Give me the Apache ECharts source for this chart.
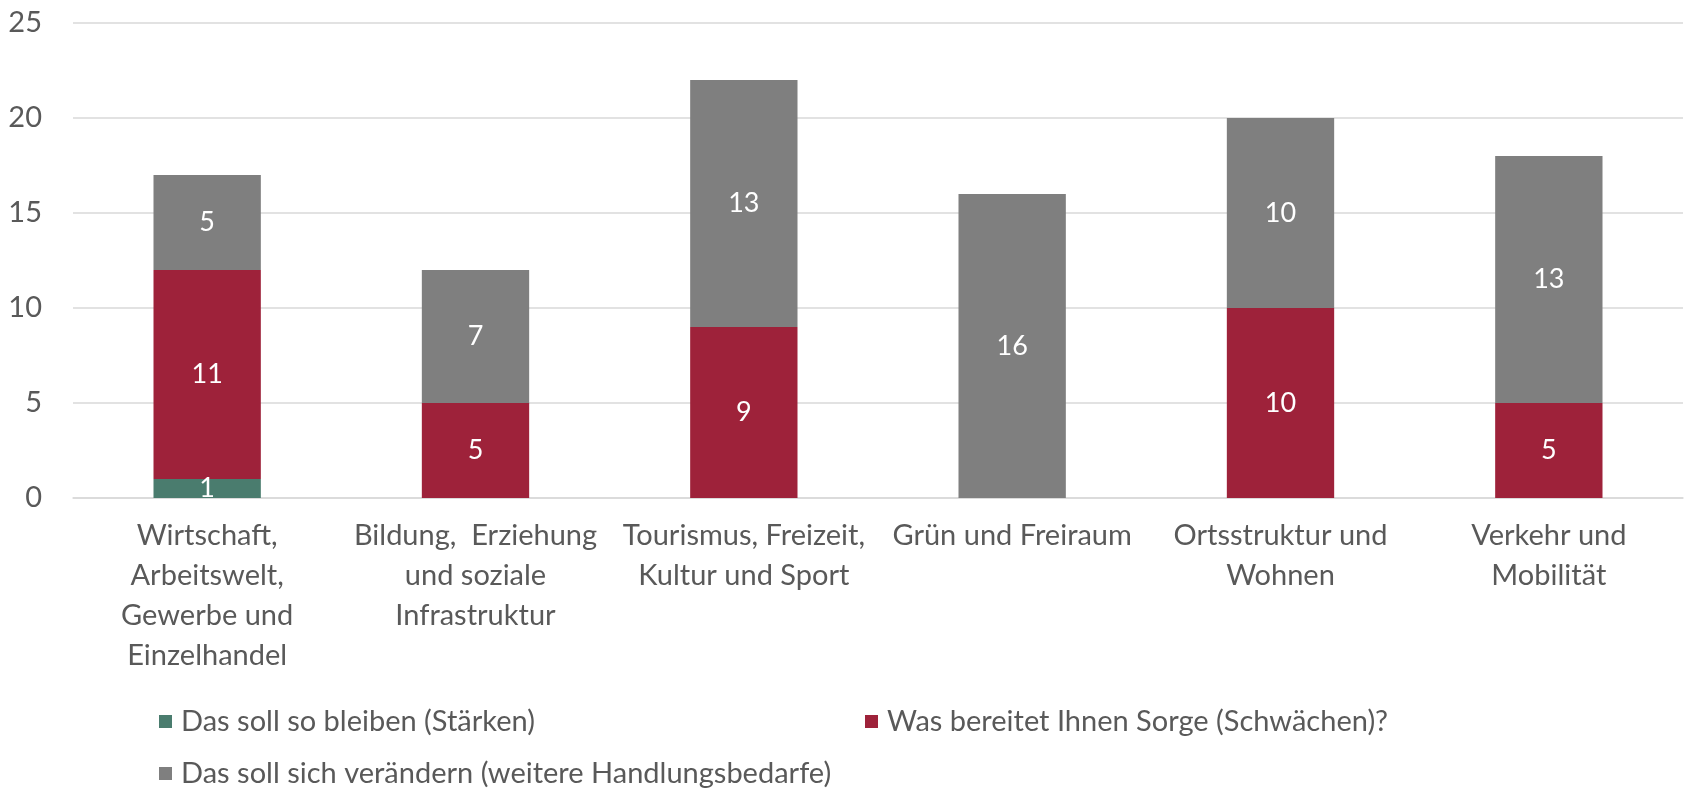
<!DOCTYPE html>
<html lang="de">

<head>
  <meta charset="utf-8">
  <title>Stärken, Schwächen, Handlungsbedarfe</title>
  <style>
    * {
      margin: 0;
      padding: 0;
    }

    #chart-container {
      position: relative;
      height: 100vh;
      overflow: hidden;
    }
  </style>
</head>

<body>
  <div id="chart-container"></div>
  <script src="https://cdn.jsdelivr.net/npm/echarts@6/dist/echarts.min.js"></script>
  <script>
    var dom = document.getElementById('chart-container');
    var myChart = echarts.init(dom, null, {
      renderer: 'canvas',
      useDirtyRect: false
    });

    // categories (line breaks as in the original)
    var categories = [
      'Wirtschaft,\nArbeitswelt,\nGewerbe und\nEinzelhandel',
      'Bildung,  Erziehung\nund soziale\nInfrastruktur',
      'Tourismus, Freizeit,\nKultur und Sport',
      'Grün und Freiraum',
      'Ortsstruktur und\nWohnen',
      'Verkehr und\nMobilität'
    ];
    var seriesNames = [
      'Das soll so bleiben (Stärken)',
      'Was bereitet Ihnen Sorge (Schwächen)?',
      'Das soll sich verändern (weitere Handlungsbedarfe)'
    ];
    var staerken = [1, null, null, null, null, null];
    var schwaechen = [11, 5, 9, null, 10, 5];
    var handlungsbedarfe = [5, 7, 13, 16, 10, 13];

    var colors = ['#4a7c6e', '#9e223a', '#7f7f7f'];
    var textColor = '#595959';
    var fontFamily = 'Lato, "Noto Sans", sans-serif';
    var fontSize = 29;

    function barSeries(name, data, color) {
      return {
        name: name,
        type: 'bar',
        stack: 'total',
        barWidth: '40%',
        data: data,
        itemStyle: { color: color },
        label: {
          show: true,
          position: 'inside',
          color: '#ffffff',
          fontFamily: fontFamily,
          fontSize: 27
        }
      };
    }

    function legendAt(name, left, top) {
      return {
        data: [name],
        left: left,
        top: top,
        icon: 'rect',
        itemWidth: 13,
        itemHeight: 13,
        padding: 0,
        selectedMode: false,
        textStyle: {
          color: textColor,
          fontFamily: fontFamily,
          fontSize: fontSize,
          padding: [0, 0, 0, 4]
        }
      };
    }

    var option = {
      backgroundColor: '#fff',
      color: colors,
      grid: {
        left: 73,
        right: 2,
        top: 23,
        bottom: 293
      },
      legend: [
        legendAt(seriesNames[0], 159, 707),
        legendAt(seriesNames[1], 865, 707),
        legendAt(seriesNames[2], 159, 759)
      ],
      xAxis: {
        type: 'category',
        data: categories,
        axisLine: { lineStyle: { color: '#d9d9d9', width: 1.5 } },
        axisTick: { show: false },
        axisLabel: {
          interval: 0,
          margin: 18,
          color: textColor,
          fontFamily: fontFamily,
          fontSize: fontSize,
          lineHeight: 40
        }
      },
      yAxis: {
        type: 'value',
        min: 0,
        max: 25,
        interval: 5,
        axisLine: { show: false },
        axisTick: { show: false },
        splitLine: { lineStyle: { color: '#d9d9d9', width: 1.5 } },
        axisLabel: {
          margin: 31,
          color: textColor,
          fontFamily: fontFamily,
          fontSize: fontSize
        }
      },
      series: [
        barSeries(seriesNames[0], staerken, colors[0]),
        barSeries(seriesNames[1], schwaechen, colors[1]),
        barSeries(seriesNames[2], handlungsbedarfe, colors[2])
      ]
    };

    myChart.setOption(option);

    window.addEventListener('resize', myChart.resize);
  </script>
</body>

</html>
